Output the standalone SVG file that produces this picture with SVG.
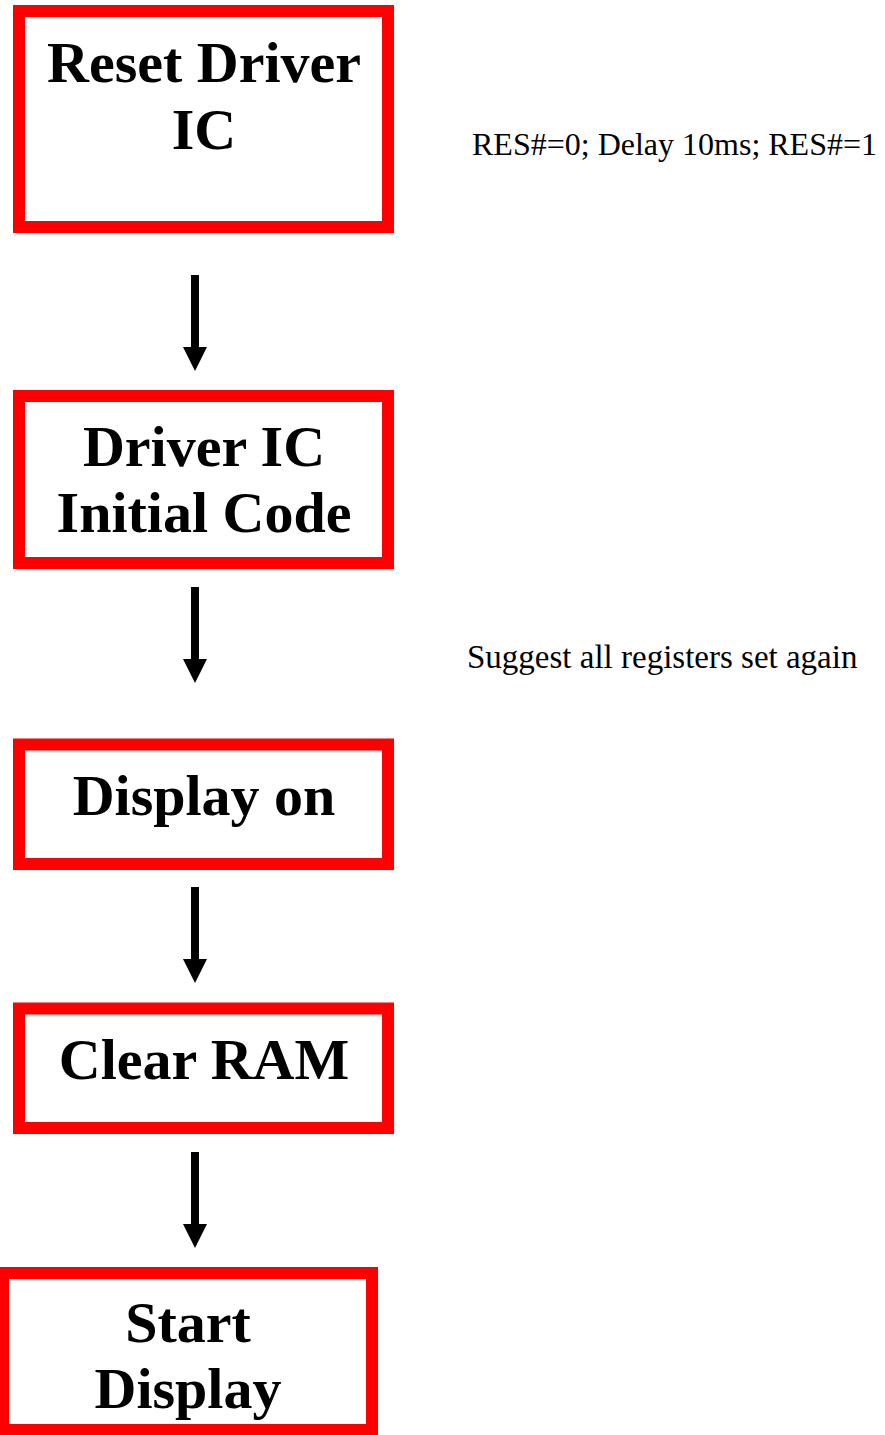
<svg xmlns="http://www.w3.org/2000/svg" width="885" height="1435" viewBox="0 0 885 1435">
<style>
.box{fill:#fff;stroke:#ff0000;stroke-width:12}
.lbl{font-family:"Liberation Serif","Times New Roman",serif;font-weight:bold;font-size:58px;text-anchor:middle;fill:#000}
.note{font-family:"Liberation Serif","Times New Roman",serif;fill:#000}
.arrow{fill:#000}
</style>
<defs>
<path id="arr" class="arrow" d="M-4,0 L4,0 L4,72 L12,72 L0,96 L-12,72 L-4,72 Z"/>
</defs>
<rect width="885" height="1435" fill="#fff"/>
<g id="reset">
<rect class="box" x="19" y="11" width="369" height="216"/>
<text class="lbl" x="204" y="82">Reset Driver</text>
<text class="lbl" x="204" y="149">IC</text>
</g>
<g id="init">
<rect class="box" x="19" y="396" width="369" height="167"/>
<text class="lbl" x="204" y="466">Driver IC</text>
<text class="lbl" x="204" y="532">Initial Code</text>
</g>
<g id="displayon">
<rect class="box" x="19" y="744.5" width="369" height="119.5"/>
<text class="lbl" x="204" y="815">Display on</text>
</g>
<g id="clearram">
<rect class="box" x="19" y="1008.5" width="369" height="119.5"/>
<text class="lbl" x="204" y="1079">Clear RAM</text>
</g>
<g id="start">
<rect class="box" x="3" y="1273" width="369" height="157"/>
<text class="lbl" x="188" y="1342">Start</text>
<text class="lbl" x="188" y="1408">Display</text>
</g>
<g id="notes">
<text class="note" x="472" y="155" font-size="32">RES#=0; Delay 10ms; RES#=1</text>
<text class="note" x="467" y="668" font-size="33">Suggest all registers set again</text>
</g>
<g id="connectors">
<use href="#arr" x="195" y="275"/>
<use href="#arr" x="195" y="587"/>
<use href="#arr" x="195" y="887"/>
<use href="#arr" x="195" y="1152"/>
</g>
</svg>
